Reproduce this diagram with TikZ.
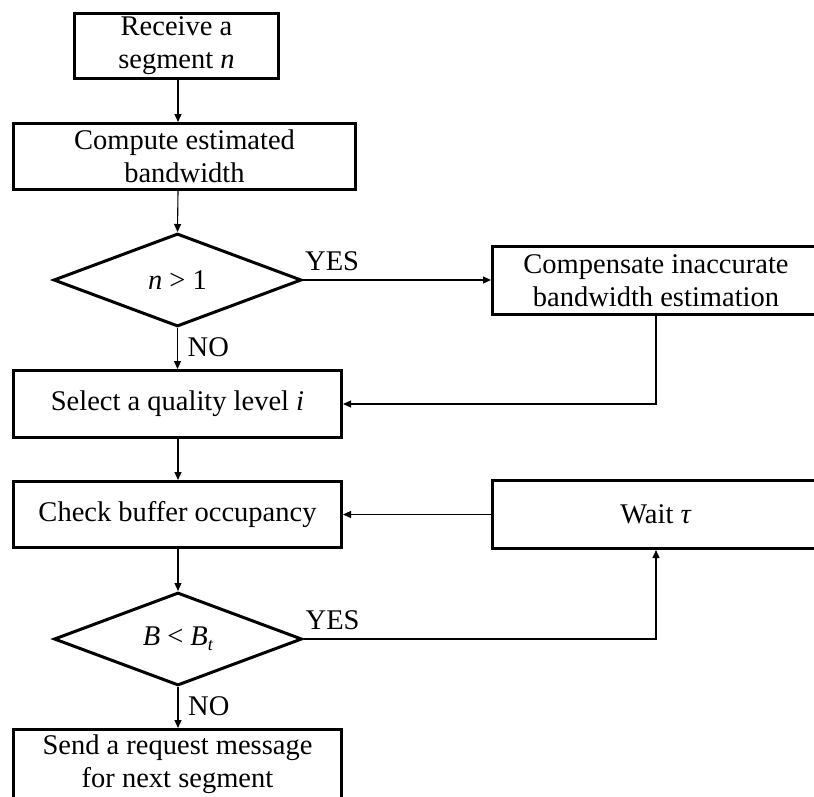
\documentclass[tikz,border=0pt]{standalone}
\usepackage{fontspec}
\setmainfont{Liberation Serif}
\usetikzlibrary{shapes.geometric,arrows.meta}
\begin{document}
\begin{tikzpicture}[x=1pt,y=-1pt,
  every node/.style={font=\fontsize{28.5}{33}\selectfont, inner sep=0pt},
  procbox/.style={draw, line width=3pt, rectangle, align=center, minimum width=#1, minimum height=67pt},
  decision/.style={draw, line width=3pt, diamond, aspect=2.6, minimum width=248pt, minimum height=93pt},
  conn/.style={line width=1.1pt, -{Triangle[length=8pt,width=7pt]}}
]
\useasboundingbox (0,0) rectangle (814,796);
\clip (0,0) rectangle (814,796);
\coordinate (sp) at (178,0);

\node[procbox=204pt, minimum height=65pt] (recv) at (176.5,46) {Receive a\\segment \textit{n}};
\node[procbox=342pt, minimum height=66pt] (comp) at (184.5,156.5) {Compute estimated\\bandwidth};
\node[decision] (d1) at (177.5,280) {\textit{n} > 1};
\node[procbox=327pt, minimum height=68pt] (comp2) at (656,280.5) {Compensate inaccurate\\bandwidth estimation};
\node[procbox=328pt] (sel) at (177.5,404) {Select a quality level \textit{i}};
\node[procbox=328pt, minimum height=66pt] (chk) at (177.5,514.5) {Check buffer occupancy};
\node[procbox=327pt, minimum height=68pt] (wait) at (656,514.5) {Wait \textit{τ}};
\node[decision] (d2) at (178,639) {\textit{B} < \textit{B}\raisebox{-5pt}{\fontsize{18}{18}\selectfont\textit{t}}};
\node[procbox=328pt, minimum height=100pt] (send) at (177.5,779.5) {};
\node[align=center] (sendtxt) at (177.5,764) {Send a request message\\for next segment};

\draw[conn] (recv.south -| sp) -- (comp.north -| sp);
\draw[conn] (comp.south -| sp) -- (d1.north);
\draw[conn] (d1.east) -- (d1.east -| comp2.west);
\draw[conn] (d1.south) -- (sel.north -| d1.south);
\draw[conn] (comp2.south) |- (sel.east);
\draw[conn] (sel.south -| sp) -- (chk.north -| sp);
\draw[conn] (wait.west) -- (wait.west -| chk.east);
\draw[conn] (chk.south -| sp) -- (d2.north);
\draw[conn] (d2.east) -| (wait.south);
\draw[conn] (d2.south) -- (send.north -| d2.south);

\node[anchor=south west, xshift=2pt, yshift=9pt] (yes1) at (d1.east) {YES};
\node[anchor=north west, xshift=10pt, yshift=-9pt] (no1) at (d1.south) {NO};
\node[anchor=south west, xshift=2pt, yshift=9pt] (yes2) at (d2.east) {YES};
\node[anchor=north west, xshift=10pt, yshift=-9pt] (no2) at (d2.south) {NO};
\end{tikzpicture}
\end{document}
